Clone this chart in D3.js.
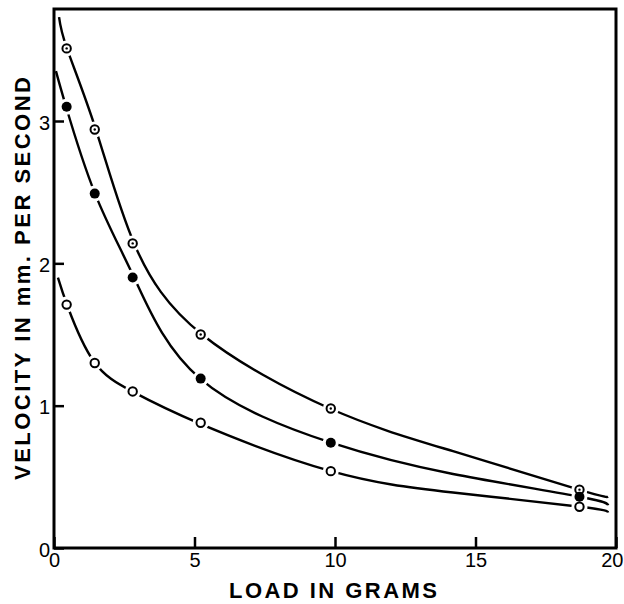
<!DOCTYPE html>
<html>
<head>
<meta charset="utf-8">
<script src="https://cdn.jsdelivr.net/npm/d3@7"></script>
<style>
  html, body { margin: 0; padding: 0; background: #fff; }
  svg { display: block; }
  text { font-family: "Liberation Sans", Arial, sans-serif; fill: #000; }
</style>
</head>
<body>
<svg id="chart" width="624" height="604"></svg>
<script>
// Loads (grams) at which velocity was measured
const loads = [0.45, 1.45, 2.8, 5.22, 9.85, 18.7];

// Measured velocities (mm per second) for the three series
const velocityTop    = [3.51, 2.94, 2.14, 1.50, 0.98, 0.41];
const velocityMiddle = [3.10, 2.49, 1.90, 1.19, 0.74, 0.36];
const velocityBottom = [1.71, 1.30, 1.10, 0.88, 0.54, 0.29];

// Hand-fitted smooth curves: [load, velocity] nodes
const curveTop = [[0.18, 3.73], [0.46, 3.51], [1.49, 2.94], [2.85, 2.14],
                  [5.27, 1.50], [9.82, 0.98], [14.2, 0.68], [18.68, 0.41], [19.72, 0.36]];
const curveMiddle = [[0.07, 3.35], [0.43, 3.10], [1.46, 2.49], [2.85, 1.90],
                     [5.2, 1.19], [9.86, 0.74], [14.2, 0.52], [18.72, 0.36], [19.72, 0.30]];
const curveBottom = [[0.14, 1.90], [0.5, 1.69], [1.42, 1.31], [2.78, 1.10],
                     [5.23, 0.87], [9.86, 0.54], [14.2, 0.39], [18.72, 0.29], [19.72, 0.25]];

// Axis ticks
const xTicks = [0, 5, 10, 15, 20];
const yTicks = [0, 1, 2, 3];

const svg = d3.select("#chart");
const x = d3.scaleLinear().domain([0, 20]).range([54, 616]);
const y = d3.scaleLinear().domain([0, 3]).range([548, 121]);
const frameTop = 9;

// Curves
const line = d3.line().x(d => x(d[0])).y(d => y(d[1])).curve(d3.curveNatural);
[curveTop, curveMiddle, curveBottom].forEach(c => {
  svg.append("path")
    .attr("d", line(c))
    .attr("fill", "none")
    .attr("stroke", "#000")
    .attr("stroke-width", 2.4);
});

// Markers with a white halo that breaks the curve around each point
const series = [
  { values: velocityTop, kind: "dotted" },
  { values: velocityMiddle, kind: "filled" },
  { values: velocityBottom, kind: "open" }
];
series.forEach(s => {
  const pts = loads.map((l, i) => [l, s.values[i]]);
  svg.append("g").selectAll("circle").data(pts).join("circle")
    .attr("cx", d => x(d[0])).attr("cy", d => y(d[1]))
    .attr("r", 8).attr("fill", "#fff");
});
series.forEach(s => {
  const g = svg.append("g");
  const pts = loads.map((l, i) => [l, s.values[i]]);
  const c = g.selectAll("circle.mk").data(pts).join("circle")
    .attr("class", "mk")
    .attr("cx", d => x(d[0])).attr("cy", d => y(d[1]));
  if (s.kind === "filled") {
    c.attr("r", 5).attr("fill", "#000");
  } else {
    c.attr("r", 4.2).attr("fill", "#fff").attr("stroke", "#000").attr("stroke-width", 2);
  }
  if (s.kind === "dotted") {
    g.selectAll("circle.dot").data(pts).join("circle")
      .attr("class", "dot")
      .attr("cx", d => x(d[0])).attr("cy", d => y(d[1]))
      .attr("r", 1.2).attr("fill", "#000");
  }
});

// Frame
svg.append("rect")
  .attr("x", x(0)).attr("y", frameTop)
  .attr("width", x(20) - x(0)).attr("height", y(0) - frameTop)
  .attr("fill", "none").attr("stroke", "#000").attr("stroke-width", 3);

// Axes with inward ticks
const xAxis = d3.axisBottom(x).tickValues(xTicks).tickFormat(d3.format("d"))
  .tickSizeInner(-11).tickSizeOuter(0).tickPadding(5);
const gx = svg.append("g").attr("transform", `translate(0,${y(0)})`).call(xAxis);
gx.select(".domain").remove();
gx.selectAll("line").attr("stroke-width", 2.5);
gx.selectAll("text").attr("font-size", 20).style("font-family", '"Liberation Sans", Arial, sans-serif');
// keep the last label inside the page
gx.selectAll(".tick").filter(d => d === 20).select("text")
  .attr("text-anchor", "end").attr("x", 7);

const yAxis = d3.axisLeft(y).tickValues(yTicks).tickFormat(d3.format("d"))
  .tickSizeInner(-10).tickSizeOuter(0).tickPadding(4);
const gy = svg.append("g").attr("transform", `translate(${x(0)},0)`).call(yAxis);
gy.select(".domain").remove();
gy.selectAll("line").attr("stroke-width", 2.5);
gy.selectAll("text").attr("font-size", 20).attr("dy", "0.4em")
  .style("font-family", '"Liberation Sans", Arial, sans-serif');

// Axis titles
svg.append("text")
  .attr("x", 229).attr("y", 598)
  .attr("font-size", 22).attr("font-weight", "bold")
  .attr("textLength", 208).attr("lengthAdjust", "spacing")
  .text("LOAD IN GRAMS");

svg.append("text")
  .attr("transform", "translate(30,480) rotate(-90)")
  .attr("font-size", 22).attr("font-weight", "bold")
  .attr("textLength", 403).attr("lengthAdjust", "spacing")
  .text("VELOCITY IN mm. PER SECOND");
</script>
</body>
</html>
